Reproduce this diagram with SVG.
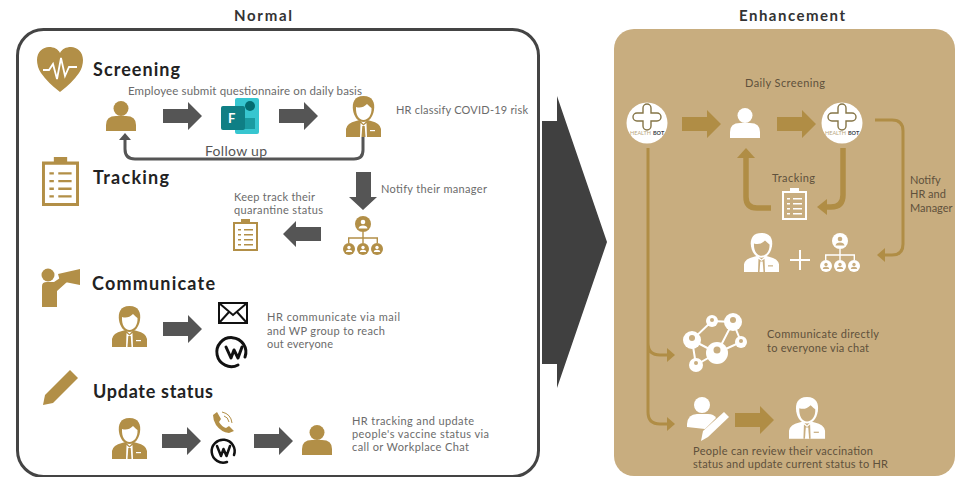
<svg xmlns="http://www.w3.org/2000/svg" width="966" height="477" viewBox="0 0 966 477">
<style>
text{font-family:"Lato","Liberation Sans",sans-serif;fill:#555}
.h{font-size:15px;font-weight:700;fill:#333}
.t{font-size:18px;font-weight:700;fill:#222}
.s{font-size:11px;fill:#6b6b6b}
.e{font-size:11px;fill:#5f513c}
.g{fill:#b28f47;color:#fff}.w{fill:#fff;color:#c8ad7f}
.ga{fill:#555}.ta{fill:#b08d45}
.ln{fill:none;stroke:#555;stroke-width:3}
.lt{fill:none;stroke:#b08d45;stroke-width:3}
.lt5{fill:none;stroke:#b08d45;stroke-width:5.500}
.wp{fill:none;stroke:#111;stroke-linecap:round;stroke-linejoin:round}
</style>
<defs>
<path id="arr" d="M0-7H25V-14L39 0L25 14V7H0Z"/>
<g id="person"><circle cx="15" cy="7.500" r="7.500"/><path d="M0 30V24Q0 15 10 15H20Q30 15 30 24V30Z"/></g>
<g id="hr">
<path d="M17.500 0C8 0 6 7 7 14C8 21 12 26 17.500 26C23 26 27 21 28 14C29 7 27 0 17.500 0Z"/>
<path d="M10 11Q16 13 21 8Q24 11 25.500 12C26 19 22 24 17.500 24C13 24 9.500 19 10 11Z" fill="currentColor"/>
<path d="M0 41V33Q1 27 10 25L13.500 24L17.500 28L21.500 24L25 25Q34 27 35 33V41Z"/>
<path d="M14.500 27L17.500 29.500L20.500 27L21 41H14Z" fill="currentColor"/>
<path d="M16.300 30H18.700L19.500 41H15.500Z"/>
<rect x="24" y="34" width="5" height="1.200" fill="currentColor"/>
</g>
<g id="org">
<circle cx="20" cy="8" r="8"/><circle cx="20" cy="6" r="2.300" fill="currentColor"/><path d="M15.500 12.500Q16 9.500 20 9.500Q24 9.500 24.500 12.500Z" fill="currentColor"/>
<path d="M19.300 16H20.700V21.300H35V27H33.600V22.700H20.700V27H19.300V22.700H6.400V27H5V21.300H19.300Z"/>
<g id="org-c"><circle cx="6" cy="33" r="6"/><circle cx="6" cy="31.500" r="1.700" fill="currentColor"/><path d="M2.800 36Q3 33.800 6 33.800Q9 33.800 9.200 36Z" fill="currentColor"/></g>
<use href="#org-c" x="14"/><use href="#org-c" x="28"/>
</g>
<g id="clip"><path d="M0 3H8V0H17V3H25V32H0ZM2 5V30H23V5Z" fill-rule="evenodd"/><path d="M5 10H8V11.500H5ZM11 10H20V11.500H11ZM5 15H8V16.500H5ZM11 15H20V16.500H11ZM5 20H8V21.500H5ZM11 20H20V21.500H11ZM5 25H8V26.500H5ZM11 25H20V26.500H11Z"/></g>
<g id="bot"><circle r="20.500" fill="#fff"/><path d="M-4-15a4 4 0 0 1 8 0v5h6a4 4 0 0 1 0 8h-6v5a4 4 0 0 1-8 0v-5h-6a4 4 0 0 1 0-8h6Z" fill="none" stroke="#857547" stroke-width="1.400"/><text x="-17" y="12" style="font-size:5.500px;fill:#b9a77f">HEALTH</text><text x="6" y="12" style="font-size:5.500px;font-weight:700;fill:#3a3f4a">BOT</text></g>
</defs>

<g id="panel-normal"><rect x="17.500" y="29.500" width="521" height="447" rx="26" fill="#fff" stroke="#444" stroke-width="3"/></g>
<g id="panel-enhancement"><rect x="614" y="29" width="341" height="447" rx="20" fill="#c8ad7f"/></g>
<text class="h" x="234" y="21" textLength="58">Normal</text>
<text class="h" x="739" y="21" textLength="106">Enhancement</text>
<g id="big-arrow"><path d="M542 121H557V96L607 242L557 388V364H542Z" fill="#404040"/></g>

<g id="connectors">
<use href="#arr" class="ga" x="163" y="116"/>
<use href="#arr" class="ga" x="279" y="116"/>
<path class="ln" d="M363 137V150Q363 159 354 159H135Q125 159 125 149V138"/>
<path class="ga" d="M125 133L131 140H119Z"/>
<path class="ga" d="M356 172H371V197H377L363 210L349 197H356Z"/>
<path class="ga" d="M321 227H296V221L283 234L296 247V241H321Z"/>
<use href="#arr" class="ga" x="163" y="329"/>
<use href="#arr" class="ga" x="162" y="441"/>
<use href="#arr" class="ga" x="254" y="441"/>

<use href="#arr" class="ta" x="682" y="124"/>
<use href="#arr" class="ta" x="777" y="124"/>
<use href="#arr" class="ta" x="735" y="420"/>
<path class="lt" d="M875 120H892Q903 120 903 131V244Q903 255 892 255H881"/>
<path class="ta" d="M877 255L885 248V262Z"/>
<path class="lt5" d="M843 148V195Q843 207 831 207H824"/>
<path class="ta" d="M817 207L827 199V215Z"/>
<path class="lt5" d="M771 208H757Q746 208 746 197V156"/>
<path class="ta" d="M746 148L755 158H737Z"/>
<path class="lt" d="M648 148V343Q648 355 660 355H669M648 343V412Q648 424 660 424H669"/>
<path class="ta" d="M675 355L667 348V362Z"/>
<path class="ta" d="M675 424L667 417V431Z"/>
</g>

<g id="screening">
<path class="g" d="M60 92Q48 83 41 73Q37 67 37 60C37 52 43 47 49 47C54 47 58 49 60 53C62 49 66 47 71 47C77 47 83 52 83 60Q83 67 79 73Q72 83 60 92Z"/>
<path d="M43 70H49L53 64L57 79L61 58L65 76L69 67H77" fill="none" stroke="#fff" stroke-width="1.800"/>
<text class="t" x="93" y="76" textLength="87">Screening</text>
<text class="s" x="128" y="95" textLength="234" style="font-size:11.500px">Employee submit questionnaire on daily basis</text>
<use href="#person" class="g" x="106" y="101"/>
</g>
<g id="forms">
<rect x="235" y="98" width="24" height="36" rx="2" fill="#37c6d0"/>
<circle cx="250" cy="106" r="5" fill="#036c70"/>
<rect x="244" y="118" width="11" height="11" fill="#1a9ba1"/>
<rect x="221" y="106" width="24" height="24" rx="2" fill="#0f7f85"/>
<text x="228" y="123" style="font-size:13px;font-weight:700;fill:#fff">F</text>
</g>
<g id="hr-classify">
<use href="#hr" class="g" x="346" y="96"/>
<text class="s" x="396" y="114" textLength="132">HR classify COVID-19 risk</text>
</g>
<text x="205" y="156" textLength="62" style="font-size:14px;fill:#555">Follow up</text>

<g id="tracking">
<use href="#clip" class="g" transform="translate(42 157) scale(1.480 1.530)"/>
<text class="t" x="93" y="184" textLength="76">Tracking</text>
<text class="s" x="234" y="201" textLength="81">Keep track their</text>
<text class="s" x="234" y="214" textLength="89">quarantine status</text>
<use href="#clip" class="g" x="233" y="219"/>
</g>
<g id="manager">
<use href="#org" class="g" x="343" y="216"/>
<text class="s" x="381" y="193" textLength="106">Notify their manager</text>
</g>

<g id="communicate">
<circle class="g" cx="48" cy="275" r="6.500"/>
<path class="g" d="M42 307V286Q42 282 47 282H54L63 276L67 282L57 291V307Z"/>
<path class="g" d="M58 274L80 269V285L60 281Z"/>
<text class="t" x="92" y="290" textLength="123">Communicate</text>
<use href="#hr" class="g" x="112" y="306"/>
</g>
<g id="mail">
<path d="M219 303H247V323H219ZM219 303L233 315L247 303M219 323L229 312M247 323L237 312" fill="none" stroke="#111" stroke-width="2"/>
</g>
<g id="workplace-1">
<path class="wp" stroke-width="3" d="M238 365A14.500 14.500 0 1 1 245 357"/>
<path class="wp" stroke-width="3" d="M226 347L231 358L234 350L238 358L242 347"/>
</g>
<text class="s" x="267" y="321" textLength="133">HR communicate via mail</text>
<text class="s" x="267" y="335" textLength="118">and WP group to reach</text>
<text class="s" x="267" y="348" textLength="66">out everyone</text>

<g id="update-status">
<path class="g" d="M43 405L45 395L70 370L78 378L53 403Z"/>
<text class="t" x="93" y="398" textLength="120">Update status</text>
<use href="#hr" class="g" x="112" y="418"/>
</g>
<g id="phone-workplace">
<path class="g" d="M213 415L217 412L221 419L219 422Q222 427 226 428L229 426L234 431L229 433Q221 432 216 425Q213 420 213 415Z"/>
<path d="M222 412Q231 414 232 423M224 416Q228 417 229 422" fill="none" stroke="#b28f47" stroke-width="1"/>
<path class="wp" stroke-width="2.500" d="M227 462A11.500 11.500 0 1 1 234 455"/>
<path class="wp" stroke-width="2.500" d="M217 446L221 456L223.500 449L226.500 456L230 446"/>
</g>
<g id="person-update">
<use href="#person" class="g" x="302" y="425"/>
</g>
<text class="s" x="352" y="425" textLength="122">HR tracking and update</text>
<text class="s" x="352" y="438" textLength="137">people's vaccine status via</text>
<text class="s" x="352" y="451" textLength="117">call or Workplace Chat</text>

<g id="bot-1"><use href="#bot" x="647" y="123"/></g>
<g id="person-e"><use href="#person" class="w" x="730" y="108"/></g>
<g id="bot-2"><use href="#bot" x="842" y="123"/></g>
<text class="e" x="745" y="87" textLength="80">Daily Screening</text>
<g id="tracking-e">
<use href="#clip" class="w" x="782" y="188"/>
<text class="e" x="772" y="182" textLength="43">Tracking</text>
</g>
<text class="e" x="910" y="184">Notify</text>
<text class="e" x="910" y="198">HR and</text>
<text class="e" x="910" y="212">Manager</text>
<g id="hr-manager">
<use href="#hr" class="w" transform="translate(744 233) scale(1 .95)"/>
<path class="w" d="M799 250H801V259H810V261H801V270H799V261H790V259H799Z"/>
<use href="#org" class="w" x="820" y="233"/>
</g>
<g id="network">
<path d="M712 321L733 322L741 342L717 353L696 365L692 340ZM733 322L717 353M692 340L717 353" fill="none" stroke="#fff" stroke-width="2"/>
<g class="w"><circle cx="712" cy="321" r="6"/><circle cx="733" cy="322" r="9"/><circle cx="692" cy="340" r="9"/><circle cx="741" cy="342" r="6"/><circle cx="717" cy="353" r="11"/><circle cx="696" cy="365" r="7"/></g>
<g fill="#c8ad7f"><circle cx="712" cy="320" r="2"/><circle cx="733" cy="320" r="3"/><circle cx="692" cy="338" r="3"/><circle cx="741" cy="341" r="2"/><circle cx="717" cy="350" r="3.500"/><circle cx="696" cy="363" r="2"/></g>
</g>
<text class="e" x="767" y="338" textLength="112">Communicate directly</text>
<text class="e" x="767" y="352" textLength="102">to everyone via chat</text>
<g id="review">
<circle class="w" cx="702" cy="405" r="8"/>
<path class="w" d="M687 427V424Q688 414 697 414H708Q714 414 716 418L705 429Z"/>
<path class="w" d="M701 441L703 431L724 412L729 417L708 437Z"/>
<use href="#hr" class="w" transform="translate(789 397) scale(1.030 1.020)"/>
</g>
<text class="e" x="693" y="455" textLength="180">People can review their vaccination</text>
<text class="e" x="693" y="468" textLength="195">status and update current status to HR</text>
</svg>
